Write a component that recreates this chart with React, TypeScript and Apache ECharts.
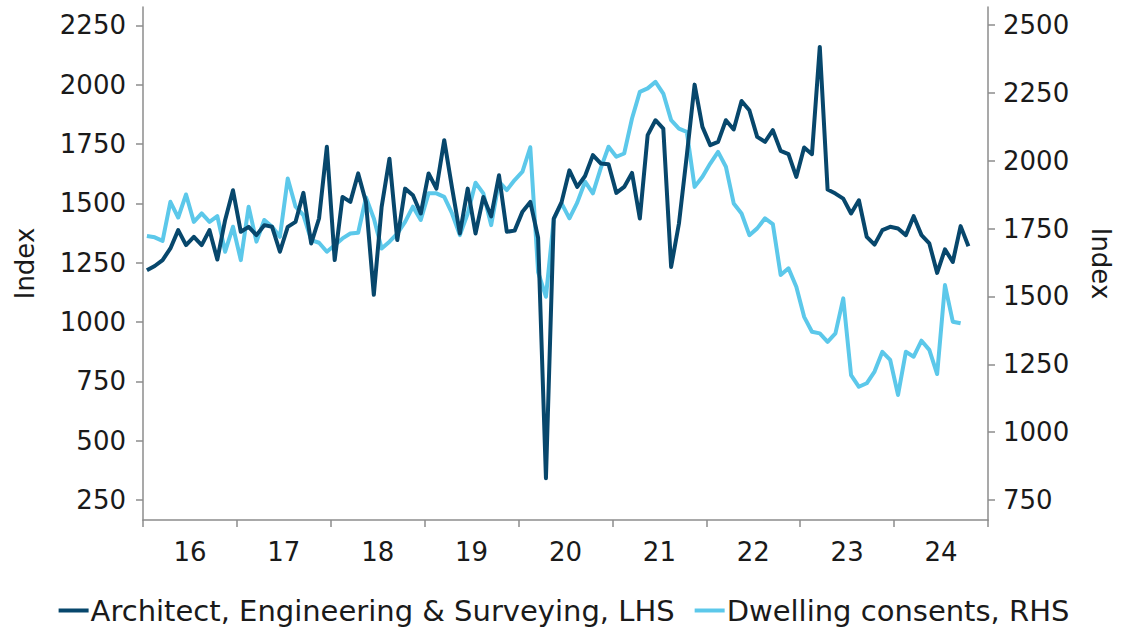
import React, { useEffect, useRef } from 'react';
import * as echarts from 'echarts';

// Year tick labels (2016 .. 2024)
const yearLabels = ['16', '17', '18', '19', '20', '21', '22', '23', '24'];

// Monthly categories Jan 2016 .. Dec 2024
const monthCategories: string[] = [];
yearLabels.forEach((y) => {
  for (let m = 1; m <= 12; m++) monthCategories.push(`20${y}-${m < 10 ? '0' + m : m}`);
});

// Architect, Engineering & Surveying (LHS), Jan 2016 .. Oct 2024
const aesValues = [
  1218, 1236, 1261, 1310, 1387, 1324, 1359, 1324, 1387, 1263, 1430, 1555,
  1380, 1401, 1366, 1408, 1401, 1296, 1401, 1422, 1544, 1331, 1436, 1738,
  1261, 1527, 1506, 1626, 1505, 1115, 1485, 1688, 1345, 1562, 1534, 1457,
  1626, 1562, 1766, 1565, 1373, 1562, 1373, 1527, 1445, 1618, 1380, 1385,
  1465, 1506, 1355, 342, 1436, 1505, 1639, 1569, 1615, 1703, 1668, 1665,
  1544, 1569, 1628, 1436, 1787, 1850, 1815, 1232, 1415, 1700, 2000, 1822,
  1745, 1759, 1850, 1811, 1931, 1892, 1780, 1759, 1808, 1721, 1707, 1611,
  1735, 1707, 2159, 1558, 1541, 1520, 1457, 1513, 1359, 1326, 1387, 1401,
  1394, 1366, 1446, 1366, 1331, 1207, 1306, 1253, 1404, 1319,
];

// Dwelling consents (RHS), Jan 2016 .. Sep 2024
const dwellingValues = [
  1723, 1718, 1705, 1849, 1791, 1876, 1775, 1806, 1775, 1796, 1665, 1757,
  1634, 1831, 1702, 1782, 1757, 1720, 1935, 1831, 1800, 1708, 1698, 1665,
  1689, 1714, 1732, 1735, 1865, 1788, 1677, 1702, 1732, 1775, 1831, 1782,
  1880, 1880, 1867, 1806, 1726, 1806, 1919, 1880, 1763, 1923, 1892, 1929,
  1960, 2050, 1590, 1499, 1785, 1843, 1788, 1846, 1923, 1880, 1972, 2052,
  2015, 2027, 2156, 2254, 2267, 2291, 2248, 2150, 2119, 2107, 1904, 1941,
  1990, 2033, 1978, 1843, 1806, 1726, 1751, 1788, 1767, 1579, 1604, 1536,
  1425, 1370, 1364, 1333, 1364, 1493, 1210, 1167, 1180, 1223, 1296, 1266,
  1137, 1296, 1278, 1337, 1303, 1214, 1542, 1407, 1401,
];

const leftTicks = [250, 500, 750, 1000, 1250, 1500, 1750, 2000, 2250];
const rightTicks = [750, 1000, 1250, 1500, 1750, 2000, 2250, 2500];

const seriesNames = ['Architect, Engineering & Surveying, LHS', 'Dwelling consents, RHS'];

const DARK = '#07476c';
const LIGHT = '#5cc8ea';
const AXIS = '#8c8c8c';
const FONT = 'DejaVu Sans';

export default function App() {
  const ref = useRef<HTMLDivElement>(null);

  useEffect(() => {
    if (!ref.current) return;
    const chart = echarts.init(ref.current, null, { renderer: 'svg' });
    const labelStyle = { color: '#1a1a1a', fontFamily: FONT, fontSize: 26 };
    const plain = (v: number) => String(v);
    chart.setOption({
      animation: false,
      backgroundColor: '#ffffff',
      textStyle: { fontFamily: FONT },
      grid: { left: 143, right: 140, top: 7, bottom: 108, containLabel: false },
      legend: {
        data: seriesNames,
        left: 'center',
        top: 591,
        icon: 'rect',
        itemWidth: 30,
        itemHeight: 4,
        itemGap: 20,
        textStyle: { color: '#1a1a1a', fontFamily: FONT, fontSize: 29, padding: [0, 0, 0, -3] },
      },
      xAxis: [
        {
          type: 'category',
          data: monthCategories,
          boundaryGap: true,
          axisLine: { show: true, lineStyle: { color: AXIS, width: 1.5 } },
          axisTick: { show: false },
          axisLabel: { show: false },
          splitLine: { show: false },
        },
        {
          type: 'category',
          data: yearLabels,
          boundaryGap: true,
          position: 'bottom',
          axisLine: { show: false },
          axisTick: { show: true, length: 7, lineStyle: { color: AXIS, width: 1.5 } },
          axisLabel: { ...labelStyle, margin: 19 },
          splitLine: { show: false },
        },
      ],
      yAxis: [
        {
          type: 'value',
          position: 'left',
          min: 166,
          max: 2327,
          name: 'Index',
          nameLocation: 'middle',
          nameGap: 105,
          nameRotate: 90,
          nameTextStyle: { ...labelStyle },
          axisLine: { show: true, lineStyle: { color: AXIS, width: 1.5 } },
          axisTick: { show: true, length: 7, customValues: leftTicks, lineStyle: { color: AXIS, width: 1.5 } },
          axisLabel: { ...labelStyle, margin: 17, customValues: leftTicks, formatter: plain },
          splitLine: { show: false },
        },
        {
          type: 'value',
          position: 'right',
          min: 676,
          max: 2567,
          name: 'Index',
          nameLocation: 'middle',
          nameGap: 100,
          nameRotate: -90,
          nameTextStyle: { ...labelStyle },
          axisLine: { show: true, lineStyle: { color: AXIS, width: 1.5 } },
          axisTick: { show: true, length: 7, customValues: rightTicks, lineStyle: { color: AXIS, width: 1.5 } },
          axisLabel: { ...labelStyle, margin: 15, customValues: rightTicks, formatter: plain },
          splitLine: { show: false },
        },
      ],
      series: [
        {
          name: seriesNames[0],
          type: 'line',
          xAxisIndex: 0,
          yAxisIndex: 0,
          data: aesValues,
          showSymbol: false,
          symbol: 'none',
          z: 3,
          lineStyle: { color: DARK, width: 4, join: 'round' },
          itemStyle: { color: DARK },
        },
        {
          name: seriesNames[1],
          type: 'line',
          xAxisIndex: 0,
          yAxisIndex: 1,
          data: dwellingValues,
          showSymbol: false,
          symbol: 'none',
          z: 2,
          lineStyle: { color: LIGHT, width: 4, join: 'round' },
          itemStyle: { color: LIGHT },
        },
      ],
    });
    return () => chart.dispose();
  }, []);

  return (
    <div
      ref={ref}
      style={{ position: 'fixed', left: 0, top: 0, width: 1128, height: 628, background: '#fff' }}
    />
  );
}
